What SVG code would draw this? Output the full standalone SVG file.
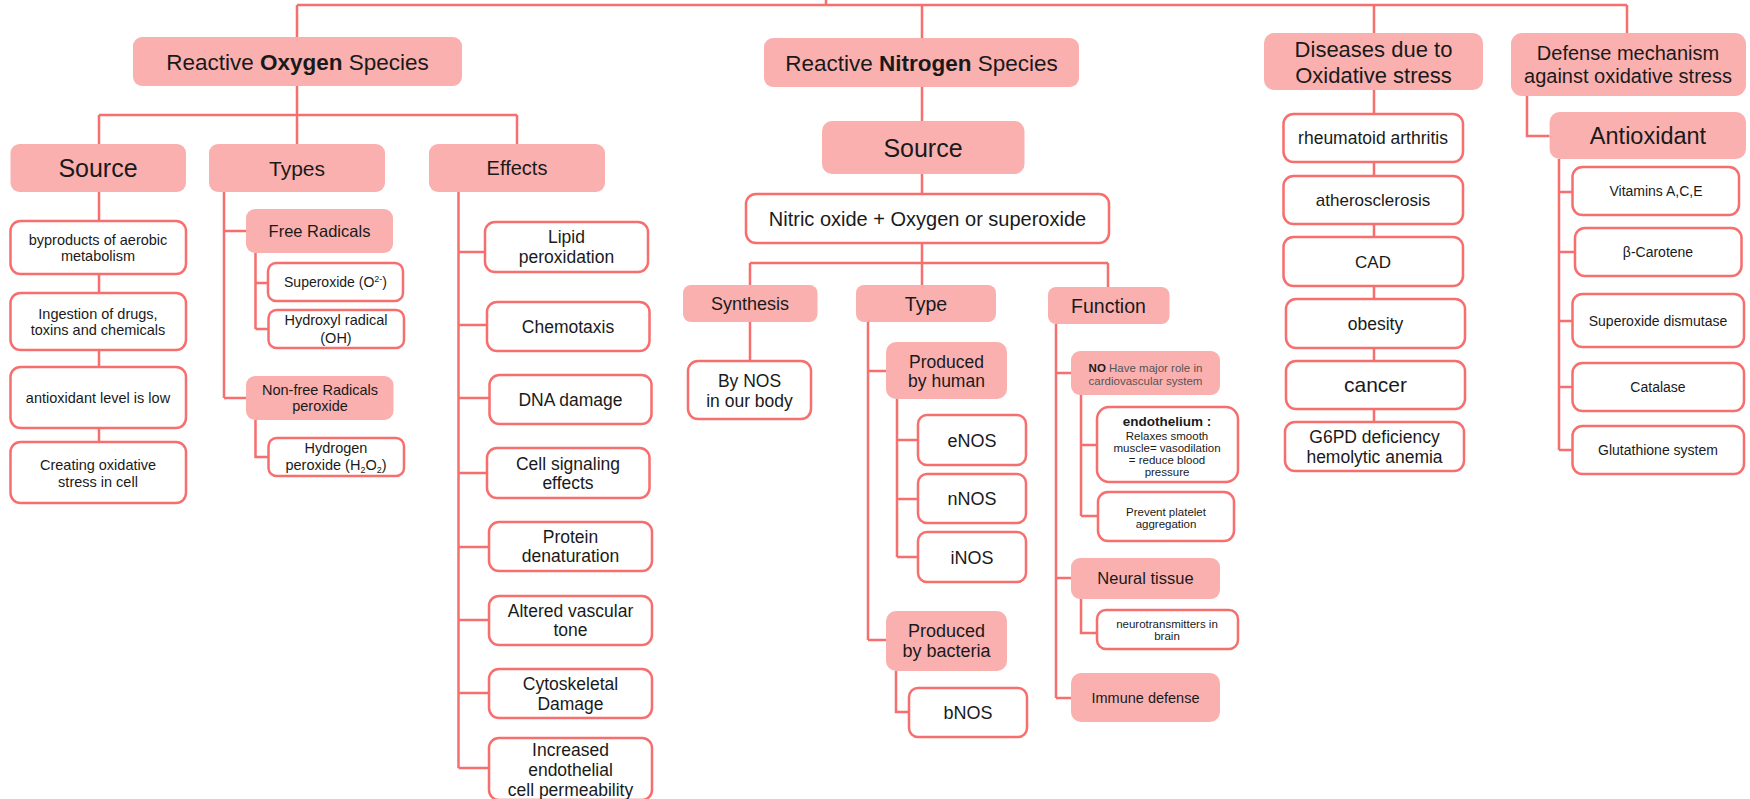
<svg xmlns="http://www.w3.org/2000/svg" width="1750" height="799" viewBox="0 0 1750 799">
<style>
.p{fill:#fbb0b0;}
.w{fill:#ffffff;stroke:#f76e6e;stroke-width:2.5;}
.ln{fill:none;stroke:#f76e6e;stroke-width:2.5;}
text{font-family:"Liberation Sans",Arial,sans-serif;fill:#1a1a1a;text-anchor:middle;}
.b{font-weight:bold;}
.g{fill:#555555;}
</style>
<rect x="0" y="0" width="1750" height="799" fill="#ffffff"/>
<g id="connectors" class="ln">
<path d="M297 5H1627M826 0V5M297 5V37M922 5V38M1374 5V33M1627 5V33"/>
<path d="M297 86V115M99 115H517M99 115V144M297 115V144M517 115V144"/>
<path d="M99 192V221M99 274V293M99 350V367M99 428V442"/>
<path d="M224 192V398M224 231H246M224 398H246M255.5 253V329M255.5 283H268M255.5 329H268.5M255.5 420V457H268.5"/>
<path d="M458.5 192V768M458.5 252H485M458.5 325H487M458.5 398H489.5M458.5 473H487M458.5 547H489M458.5 620H489M458.5 693H489M458.5 768H489"/>
<path d="M922 87V121M922 174V194M922 243V263M750 263H1108M750 263V285M922 263V285M1108 263V287"/>
<path d="M750 322V361"/>
<path d="M868 322V640M868 371H886M868 640H886M897 399V557M897 440H918M897 499H918M897 557H918M896 671V712H909"/>
<path d="M1056 324V698M1056 373H1071M1056 578H1071M1056 698H1071M1081 395V516M1081 445H1097M1081 516H1098M1081 599V633H1097"/>
<path d="M1374 90V114M1374 162V176M1374 224V237M1374 286V299M1374 348V361M1374 409V422"/>
<path d="M1527 96V136H1549.6M1559 159V450M1559 192H1572.5M1559 252H1575M1559 321H1572.5M1559 387H1572.5M1559 450H1572.5"/>
</g>
<g id="ros"><rect class="p" x="133" y="37" width="329" height="49" rx="9"/><text x="297.5" y="69.5" font-size="22.5">Reactive <tspan class="b">Oxygen</tspan> Species</text></g>
<g id="ros-source"><rect class="p" x="10.5" y="144" width="175.5" height="48" rx="9"/><text x="98" y="177" font-size="25">Source</text></g>
<g id="ros-types"><rect class="p" x="209" y="144" width="176" height="48" rx="9"/><text x="297" y="175.5" font-size="21">Types</text></g>
<g id="ros-effects"><rect class="p" x="429" y="144" width="176" height="48" rx="9"/><text x="517" y="175" font-size="20">Effects</text></g>
<g id="byproducts"><rect class="w" x="10.5" y="221" width="175.5" height="53" rx="10"/><text x="98" y="245" font-size="14.5">byproducts of aerobic</text><text x="98" y="261" font-size="14.5">metabolism</text></g>
<g id="ingestion"><rect class="w" x="10.5" y="293" width="175.5" height="57" rx="10"/><text x="98" y="318.5" font-size="14.5">Ingestion of drugs,</text><text x="98" y="334.5" font-size="14.5">toxins and chemicals</text></g>
<g id="antioxidant-low"><rect class="w" x="10.5" y="367" width="175.5" height="61" rx="10"/><text x="98" y="403" font-size="14.5">antioxidant level is low</text></g>
<g id="creating"><rect class="w" x="10.5" y="442" width="175.5" height="61" rx="10"/><text x="98" y="470" font-size="14.5">Creating oxidative</text><text x="98" y="487" font-size="14.5">stress in cell</text></g>
<g id="free-radicals"><rect class="p" x="246" y="209" width="147" height="44" rx="9"/><text x="319.5" y="237" font-size="16.5">Free Radicals</text></g>
<g id="superoxide"><rect class="w" x="268" y="263" width="135" height="38" rx="8"/><text x="335.5" y="287" font-size="14">Superoxide (O<tspan dy="-5" font-size="9">2-</tspan><tspan dy="5">)</tspan></text></g>
<g id="hydroxyl"><rect class="w" x="268.5" y="310" width="135.5" height="38" rx="8"/><text x="336" y="325" font-size="14.5">Hydroxyl radical</text><text x="336" y="343" font-size="14.5">(OH)</text></g>
<g id="non-free"><rect class="p" x="246" y="376" width="147.5" height="44" rx="9"/><text x="320" y="395" font-size="14.5">Non-free Radicals</text><text x="320" y="411" font-size="14.5">peroxide</text></g>
<g id="hydrogen"><rect class="w" x="268.5" y="438" width="135.5" height="38" rx="8"/><text x="336" y="452.5" font-size="14.5">Hydrogen</text><text x="336" y="470" font-size="14.5">peroxide (H<tspan dy="3" font-size="9">2</tspan><tspan dy="-3">O</tspan><tspan dy="3" font-size="9">2</tspan><tspan dy="-3">)</tspan></text></g>
<g id="lipid"><rect class="w" x="485" y="222" width="163" height="50" rx="10"/><text x="566.5" y="243" font-size="17.5">Lipid</text><text x="566.5" y="262.5" font-size="17.5">peroxidation</text></g>
<g id="chemotaxis"><rect class="w" x="487" y="302" width="162.5" height="49" rx="10"/><text x="568" y="332.5" font-size="17.5">Chemotaxis</text></g>
<g id="dna"><rect class="w" x="489.5" y="375" width="162" height="49" rx="10"/><text x="570.5" y="405.5" font-size="17.5">DNA damage</text></g>
<g id="cell-signaling"><rect class="w" x="487" y="448" width="162.5" height="50" rx="10"/><text x="568" y="469.5" font-size="17.5">Cell signaling</text><text x="568" y="488.5" font-size="17.5">effects</text></g>
<g id="protein"><rect class="w" x="489" y="522" width="163" height="49" rx="10"/><text x="570.5" y="543" font-size="17.5">Protein</text><text x="570.5" y="562" font-size="17.5">denaturation</text></g>
<g id="altered"><rect class="w" x="489" y="596" width="163" height="49" rx="10"/><text x="570.5" y="617" font-size="17.5">Altered vascular</text><text x="570.5" y="636" font-size="17.5">tone</text></g>
<g id="cytoskeletal"><rect class="w" x="489" y="669" width="163" height="49" rx="10"/><text x="570.5" y="689.5" font-size="17.5">Cytoskeletal</text><text x="570.5" y="709.5" font-size="17.5">Damage</text></g>
<g id="increased"><rect class="w" x="489" y="738" width="163" height="62" rx="10"/><text x="570.5" y="755.5" font-size="17.5">Increased</text><text x="570.5" y="775.5" font-size="17.5">endothelial</text><text x="570.5" y="795.5" font-size="17.5">cell permeability</text></g>
<g id="rns"><rect class="p" x="764" y="38" width="315" height="49" rx="9"/><text x="921.5" y="70.5" font-size="22.5">Reactive <tspan class="b">Nitrogen</tspan> Species</text></g>
<g id="rns-source"><rect class="p" x="822" y="121" width="202.5" height="53" rx="10"/><text x="923" y="156.5" font-size="25">Source</text></g>
<g id="nitric"><rect class="w" x="746" y="194" width="363" height="49" rx="10"/><text x="927.5" y="226" font-size="20">Nitric oxide + Oxygen or superoxide</text></g>
<g id="synthesis"><rect class="p" x="683" y="285" width="134.5" height="37" rx="8"/><text x="750" y="310" font-size="18">Synthesis</text></g>
<g id="type"><rect class="p" x="856" y="285" width="140" height="37" rx="8"/><text x="926" y="310.5" font-size="19.5">Type</text></g>
<g id="function"><rect class="p" x="1048" y="287" width="121.5" height="37" rx="8"/><text x="1108.5" y="312.5" font-size="19.5">Function</text></g>
<g id="by-nos"><rect class="w" x="688" y="361" width="123" height="58" rx="10"/><text x="749.5" y="386.5" font-size="17.5">By NOS</text><text x="749.5" y="406.5" font-size="17.5">in our body</text></g>
<g id="human"><rect class="p" x="886" y="342" width="121" height="57" rx="10"/><text x="946.5" y="367.5" font-size="17.5">Produced</text><text x="946.5" y="386.5" font-size="17.5">by human</text></g>
<g id="enos"><rect class="w" x="918" y="415" width="108" height="50" rx="9"/><text x="972" y="446.5" font-size="18">eNOS</text></g>
<g id="nnos"><rect class="w" x="918" y="474" width="108" height="49" rx="9"/><text x="972" y="505" font-size="18">nNOS</text></g>
<g id="inos"><rect class="w" x="918" y="532" width="108" height="50" rx="9"/><text x="972" y="563.5" font-size="18">iNOS</text></g>
<g id="bacteria"><rect class="p" x="886" y="611" width="121" height="60" rx="10"/><text x="946.5" y="637" font-size="18">Produced</text><text x="946.5" y="656.5" font-size="18">by bacteria</text></g>
<g id="bnos"><rect class="w" x="909" y="688" width="118" height="49" rx="9"/><text x="968" y="719" font-size="18">bNOS</text></g>
<g id="no-role"><rect class="p" x="1071" y="351" width="149" height="44" rx="9"/><text x="1145.5" y="371.5" font-size="11.5"><tspan class="b">NO</tspan><tspan class="g"> Have major role in</tspan></text><text class="g" x="1145.5" y="384.5" font-size="11.5">cardiovascular system</text></g>
<g id="endothelium"><rect class="w" x="1097" y="407" width="141" height="75" rx="12"/><text class="b" x="1167" y="426" font-size="13.5">endothelium :</text><text x="1167" y="440" font-size="11.5">Relaxes smooth</text><text x="1167" y="451.5" font-size="11.5">muscle= vasodilation</text><text x="1167" y="463.5" font-size="11.5">= reduce blood</text><text x="1167" y="475.5" font-size="11.5">pressure</text></g>
<g id="platelet"><rect class="w" x="1098" y="492" width="136" height="49" rx="10"/><text x="1166" y="516" font-size="11.5">Prevent platelet</text><text x="1166" y="527.5" font-size="11.5">aggregation</text></g>
<g id="neural"><rect class="p" x="1071" y="558" width="149" height="41" rx="9"/><text x="1145.5" y="584" font-size="16.5">Neural tissue</text></g>
<g id="neurotransmitters"><rect class="w" x="1097" y="610" width="141" height="39" rx="9"/><text x="1167" y="628" font-size="11.5">neurotransmitters in</text><text x="1167" y="640" font-size="11.5">brain</text></g>
<g id="immune"><rect class="p" x="1071" y="673" width="149" height="49" rx="10"/><text x="1145.5" y="703" font-size="14.5">Immune defense</text></g>
<g id="diseases"><rect class="p" x="1264" y="33" width="219" height="57" rx="10"/><text x="1373.5" y="57" font-size="22">Diseases due to</text><text x="1373.5" y="83" font-size="22">Oxidative stress</text></g>
<g id="rheumatoid"><rect class="w" x="1283.5" y="114" width="179.5" height="48" rx="10"/><text x="1373" y="144" font-size="17.5">rheumatoid arthritis</text></g>
<g id="atherosclerosis"><rect class="w" x="1283.5" y="176" width="179.5" height="48" rx="10"/><text x="1373" y="206" font-size="17">atherosclerosis</text></g>
<g id="cad"><rect class="w" x="1283.5" y="237" width="179.5" height="49" rx="10"/><text x="1373" y="267.5" font-size="17">CAD</text></g>
<g id="obesity"><rect class="w" x="1286" y="299" width="179" height="49" rx="10"/><text x="1375.5" y="329.5" font-size="17.5">obesity</text></g>
<g id="cancer"><rect class="w" x="1286" y="361" width="179" height="48" rx="10"/><text x="1375.5" y="392" font-size="21">cancer</text></g>
<g id="g6pd"><rect class="w" x="1285" y="422" width="179" height="49" rx="10"/><text x="1374.5" y="443" font-size="17.5">G6PD deficiency</text><text x="1374.5" y="463" font-size="17.5">hemolytic anemia</text></g>
<g id="defense"><rect class="p" x="1511" y="33" width="235" height="63" rx="11"/><text x="1628" y="60" font-size="20">Defense mechanism</text><text x="1628" y="83" font-size="20">against oxidative stress</text></g>
<g id="antioxidant"><rect class="p" x="1549.6" y="112" width="196.4" height="47" rx="10"/><text x="1648" y="144" font-size="23.5">Antioxidant</text></g>
<g id="vitamins"><rect class="w" x="1572.5" y="167" width="166.5" height="48" rx="10"/><text x="1656" y="196" font-size="14">Vitamins A,C,E</text></g>
<g id="carotene"><rect class="w" x="1575" y="228" width="166.5" height="48" rx="10"/><text x="1658" y="257" font-size="14">β-Carotene</text></g>
<g id="sod"><rect class="w" x="1572.5" y="294" width="171.5" height="53" rx="10"/><text x="1658" y="325.5" font-size="14">Superoxide dismutase</text></g>
<g id="catalase"><rect class="w" x="1572.5" y="363" width="171.5" height="48" rx="10"/><text x="1658" y="392" font-size="14">Catalase</text></g>
<g id="glutathione"><rect class="w" x="1572.5" y="426" width="171.5" height="48" rx="10"/><text x="1658" y="455" font-size="14">Glutathione system</text></g>
</svg>
